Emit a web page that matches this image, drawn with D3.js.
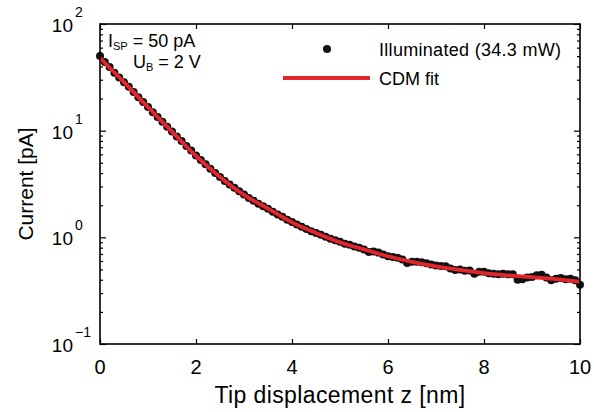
<!DOCTYPE html>
<html>
<head>
<meta charset="utf-8">
<script src="https://cdn.jsdelivr.net/npm/d3@7"></script>
<style>
  body { margin: 0; background: #fff; }
  svg { font-family: "Liberation Sans", Arial, sans-serif; }
</style>
</head>
<body>
<div id="graph"></div>
<script>
// measured points, one every 0.1 nm
const zPoints = d3.range(0, 101).map(i => +(i * 0.1).toFixed(1));
const currentPoints = [
  50, 44, 39.5, 35, 31.5, 28.5, 25.8, 23, 20.6, 18.6,
  16.7, 14.9, 13.4, 12.1, 10.9, 9.8, 8.8, 8.0, 7.2, 6.5,
  5.85, 5.3, 4.85, 4.4, 4.0, 3.68, 3.38, 3.12, 2.92, 2.7,
  2.52, 2.34, 2.2, 2.06, 1.96, 1.85, 1.74, 1.64, 1.56, 1.46,
  1.39, 1.32, 1.26, 1.2, 1.14, 1.10, 1.06, 1.01, 0.97, 0.94,
  0.91, 0.87, 0.85, 0.82, 0.80, 0.77, 0.73, 0.735, 0.72, 0.69,
  0.665, 0.655, 0.645, 0.62, 0.575, 0.59, 0.59, 0.585, 0.57, 0.555,
  0.545, 0.54, 0.535, 0.51, 0.495, 0.50, 0.485, 0.49, 0.455, 0.475,
  0.475, 0.46, 0.455, 0.45, 0.455, 0.45, 0.45, 0.40, 0.405, 0.42,
  0.425, 0.44, 0.445, 0.42, 0.395, 0.41, 0.415, 0.405, 0.41, 0.395,
  0.36
];
// CDM fit curve, one value every 0.5 nm
const zFit = [0, 0.5, 1, 1.5, 2, 2.5, 3, 3.5, 4, 4.5, 5, 5.5, 6, 6.5, 7, 7.5, 8, 8.5, 9, 9.5, 10];
const currentFit = [48, 28.5, 16.6, 9.8, 5.8, 3.68, 2.5, 1.86, 1.38, 1.1, 0.9,
  0.77, 0.665, 0.59, 0.535, 0.495, 0.462, 0.44, 0.423, 0.405, 0.385];
const xTicks = [0, 2, 4, 6, 8, 10];
const yDecades = [-1, 0, 1, 2];

const w = 594, h = 412;
const margin = {top: 24, right: 14, bottom: 68, left: 100};
const innerWidth = w - margin.left - margin.right;
const innerHeight = h - margin.top - margin.bottom;
const red = "#e3262b";

const svg = d3.select("#graph").append("svg")
  .attr("width", w).attr("height", h);
const g = svg.append("g")
  .attr("transform", `translate(${margin.left},${margin.top})`);

const xScale = d3.scaleLinear().domain([0, 10]).range([0, innerWidth]);
const yScale = d3.scaleLog().domain([0.1, 100]).range([innerHeight, 0]);

// minor ticks for log axis
const minorTicks = [];
yDecades.slice(0, 3).forEach(d => {
  for (let k = 2; k <= 9; k++) minorTicks.push(k * Math.pow(10, d));
});

// axes with inward ticks
const tickStyle = sel => {
  sel.select(".domain").remove();
  sel.selectAll("line").attr("stroke", "#000").attr("stroke-width", 1.2);
  sel.selectAll("text").remove();
};
g.append("g").attr("transform", `translate(0,${innerHeight})`)
  .call(d3.axisBottom(xScale).tickValues(xTicks).tickSize(-5)).call(tickStyle);
g.append("g")
  .call(d3.axisTop(xScale).tickValues(xTicks).tickSize(-5)).call(tickStyle);
g.append("g")
  .call(d3.axisLeft(yScale).tickValues(yDecades.map(d => Math.pow(10, d))).tickSize(-6)).call(tickStyle);
g.append("g")
  .call(d3.axisLeft(yScale).tickValues(minorTicks).tickSize(-3)).call(tickStyle);
g.append("g").attr("transform", `translate(${innerWidth},0)`)
  .call(d3.axisRight(yScale).tickValues(yDecades.map(d => Math.pow(10, d))).tickSize(-6)).call(tickStyle);
g.append("g").attr("transform", `translate(${innerWidth},0)`)
  .call(d3.axisRight(yScale).tickValues(minorTicks).tickSize(-3)).call(tickStyle);

// x tick labels
g.selectAll(".xlab").data(xTicks).enter().append("text")
  .attr("x", d => xScale(d))
  .attr("y", innerHeight + 30)
  .attr("text-anchor", "middle")
  .style("font-size", "20px")
  .text(d => d);

// y tick labels 10^n
yDecades.forEach(d => {
  const y = yScale(Math.pow(10, d));
  g.append("text").attr("x", -27).attr("y", y + 8)
    .attr("text-anchor", "end").style("font-size", "19px").text("10");
  g.append("text").attr("x", -25).attr("y", y - 7)
    .attr("text-anchor", "start").style("font-size", "14px")
    .text(d < 0 ? "\u2212" + Math.abs(d) : d);
});

// axis titles
svg.append("text")
  .attr("x", margin.left + innerWidth / 2).attr("y", 403)
  .attr("text-anchor", "middle").style("font-size", "23px")
  .style("letter-spacing", "0.4px")
  .text("Tip displacement z [nm]");
svg.append("text")
  .attr("transform", `translate(33,${margin.top + innerHeight / 2}) rotate(-90)`)
  .attr("text-anchor", "middle").style("font-size", "21px")
  .text("Current [pA]");

// data dots
const pts = zPoints.map((z, i) => ({z: z, c: currentPoints[i]}));
g.selectAll("circle.dot").data(pts).enter().append("circle")
  .attr("class", "dot")
  .attr("cx", d => xScale(d.z))
  .attr("cy", d => yScale(d.c))
  .attr("r", 4)
  .attr("fill", "#111");

// fit line
const fit = zFit.map((z, i) => ({z: z, c: currentFit[i]}));
const lineGenerator = d3.line()
  .x(d => xScale(d.z))
  .y(d => yScale(d.c))
  .curve(d3.curveMonotoneX);
g.append("path")
  .attr("d", lineGenerator(fit))
  .attr("fill", "none")
  .attr("stroke", red)
  .attr("stroke-width", 3.8);

// frame
g.append("rect")
  .attr("width", innerWidth).attr("height", innerHeight)
  .attr("fill", "none").attr("stroke", "#000").attr("stroke-width", 1.6);

// annotation
const ann1 = svg.append("text").attr("x", 108).attr("y", 47).style("font-size", "18px");
ann1.append("tspan").text("I");
ann1.append("tspan").attr("dy", 3).style("font-size", "11px").text("SP");
ann1.append("tspan").attr("dy", -3).text(" = 50 pA");
const ann2 = svg.append("text").attr("x", 133).attr("y", 68).style("font-size", "18px");
ann2.append("tspan").text("U");
ann2.append("tspan").attr("dy", 3).style("font-size", "11px").text("B");
ann2.append("tspan").attr("dy", -3).text(" = 2 V");

// legend
svg.append("circle").attr("cx", 327).attr("cy", 49).attr("r", 4).attr("fill", "#111");
svg.append("text").attr("x", 379).attr("y", 56).style("font-size", "18px")
  .style("letter-spacing", "0.3px")
  .text("Illuminated (34.3 mW)");
svg.append("line").attr("x1", 283).attr("x2", 370).attr("y1", 78).attr("y2", 78)
  .attr("stroke", red).attr("stroke-width", 3.8);
svg.append("text").attr("x", 379).attr("y", 85).style("font-size", "18px")
  .text("CDM fit");
</script>
</body>
</html>
